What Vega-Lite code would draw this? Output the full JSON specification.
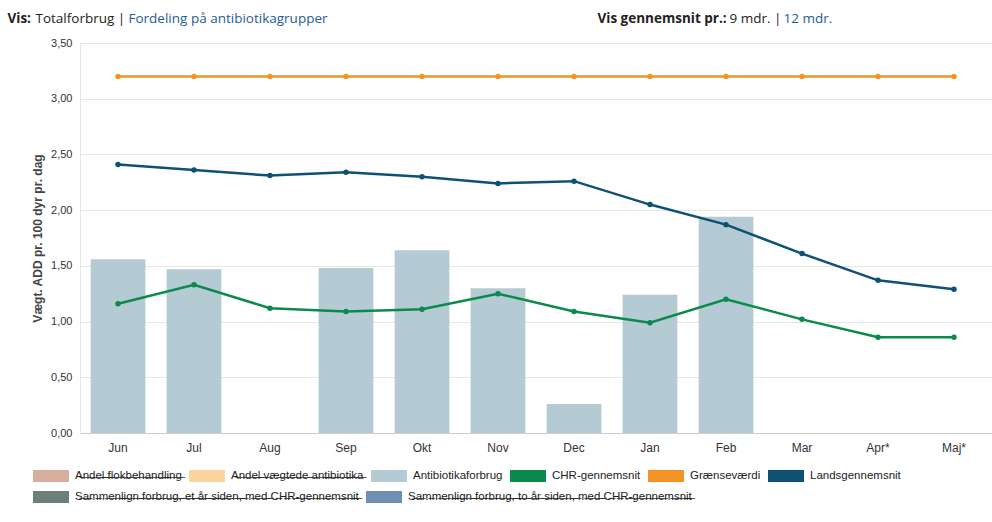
{
  "$schema": "https://vega.github.io/schema/vega-lite/v6.json",
  "width": 912,
  "height": 390,
  "autosize": {"type": "none"},
  "padding": {"left": 80, "top": 43, "right": 0, "bottom": 89},
  "background": "white",
  "config": {
    "view": {"stroke": null},
    "font": "Liberation Sans",
    "legend": {
      "orient": "none", "direction": "horizontal", "title": null,
      "symbolType": "M-1,-1H5V1H-1Z", "symbolSize": 144, "symbolStrokeWidth": 0, "symbolOpacity": 1,
      "labelOffset": 30, "labelFontSize": 11.5, "labelColor": "#222222", "labelLimit": 400,
      "columnPadding": 7
    }
  },
  "data": {
    "values": [
      {"month": "Jun", "serie": "Antibiotikaforbrug", "value": 1.56},
      {"month": "Jul", "serie": "Antibiotikaforbrug", "value": 1.47},
      {"month": "Sep", "serie": "Antibiotikaforbrug", "value": 1.48},
      {"month": "Okt", "serie": "Antibiotikaforbrug", "value": 1.64},
      {"month": "Nov", "serie": "Antibiotikaforbrug", "value": 1.30},
      {"month": "Dec", "serie": "Antibiotikaforbrug", "value": 0.26},
      {"month": "Jan", "serie": "Antibiotikaforbrug", "value": 1.24},
      {"month": "Feb", "serie": "Antibiotikaforbrug", "value": 1.94},
      {"month": "Jun", "serie": "Grænseværdi", "value": 3.2},
      {"month": "Jul", "serie": "Grænseværdi", "value": 3.2},
      {"month": "Aug", "serie": "Grænseværdi", "value": 3.2},
      {"month": "Sep", "serie": "Grænseværdi", "value": 3.2},
      {"month": "Okt", "serie": "Grænseværdi", "value": 3.2},
      {"month": "Nov", "serie": "Grænseværdi", "value": 3.2},
      {"month": "Dec", "serie": "Grænseværdi", "value": 3.2},
      {"month": "Jan", "serie": "Grænseværdi", "value": 3.2},
      {"month": "Feb", "serie": "Grænseværdi", "value": 3.2},
      {"month": "Mar", "serie": "Grænseværdi", "value": 3.2},
      {"month": "Apr*", "serie": "Grænseværdi", "value": 3.2},
      {"month": "Maj*", "serie": "Grænseværdi", "value": 3.2},
      {"month": "Jun", "serie": "Landsgennemsnit", "value": 2.41},
      {"month": "Jul", "serie": "Landsgennemsnit", "value": 2.36},
      {"month": "Aug", "serie": "Landsgennemsnit", "value": 2.31},
      {"month": "Sep", "serie": "Landsgennemsnit", "value": 2.34},
      {"month": "Okt", "serie": "Landsgennemsnit", "value": 2.30},
      {"month": "Nov", "serie": "Landsgennemsnit", "value": 2.24},
      {"month": "Dec", "serie": "Landsgennemsnit", "value": 2.26},
      {"month": "Jan", "serie": "Landsgennemsnit", "value": 2.05},
      {"month": "Feb", "serie": "Landsgennemsnit", "value": 1.87},
      {"month": "Mar", "serie": "Landsgennemsnit", "value": 1.61},
      {"month": "Apr*", "serie": "Landsgennemsnit", "value": 1.37},
      {"month": "Maj*", "serie": "Landsgennemsnit", "value": 1.29},
      {"month": "Jun", "serie": "CHR-gennemsnit", "value": 1.16},
      {"month": "Jul", "serie": "CHR-gennemsnit", "value": 1.33},
      {"month": "Aug", "serie": "CHR-gennemsnit", "value": 1.12},
      {"month": "Sep", "serie": "CHR-gennemsnit", "value": 1.09},
      {"month": "Okt", "serie": "CHR-gennemsnit", "value": 1.11},
      {"month": "Nov", "serie": "CHR-gennemsnit", "value": 1.25},
      {"month": "Dec", "serie": "CHR-gennemsnit", "value": 1.09},
      {"month": "Jan", "serie": "CHR-gennemsnit", "value": 0.99},
      {"month": "Feb", "serie": "CHR-gennemsnit", "value": 1.20},
      {"month": "Mar", "serie": "CHR-gennemsnit", "value": 1.02},
      {"month": "Apr*", "serie": "CHR-gennemsnit", "value": 0.86},
      {"month": "Maj*", "serie": "CHR-gennemsnit", "value": 0.86}
    ]
  },
  "layer": [
    {
      "transform": [{"filter": "datum.serie === 'Antibiotikaforbrug'"}],
      "mark": {"type": "bar"},
      "encoding": {
        "x": {
          "field": "month", "type": "nominal",
          "sort": ["Jun", "Jul", "Aug", "Sep", "Okt", "Nov", "Dec", "Jan", "Feb", "Mar", "Apr*", "Maj*"],
          "scale": {"domain": ["Jun", "Jul", "Aug", "Sep", "Okt", "Nov", "Dec", "Jan", "Feb", "Mar", "Apr*", "Maj*"], "paddingInner": 0.28, "paddingOuter": 0.14},
          "axis": {"orient": "bottom", "title": null, "labelAngle": 0, "ticks": false, "domainColor": "#cccccc", "labelFontSize": 12, "labelColor": "#333333", "labelPadding": 9, "grid": false}
        },
        "y": {
          "field": "value", "type": "quantitative",
          "scale": {"domain": [0, 3.5], "nice": false},
          "axis": {
            "title": "Vægt. ADD pr. 100 dyr pr. dag",
            "values": [0, 0.5, 1, 1.5, 2, 2.5, 3, 3.5],
            "labelExpr": "replace(format(datum.value, '.2f'), '.', ',')",
            "domain": true, "domainColor": "#e6e6e6", "ticks": false,
            "gridColor": "#e6e6e6", "labelFontSize": 11, "labelColor": "#333333",
            "labelPadding": 8, "titleFontSize": 12, "titleFontWeight": "bold",
            "titleColor": "#444444", "titlePadding": 6
          }
        },
        "color": {
          "field": "serie", "type": "nominal",
          "scale": {
            "domain": ["Andel flokbehandling", "Andel vægtede antibiotika", "Antibiotikaforbrug", "CHR-gennemsnit", "Grænseværdi", "Landsgennemsnit"],
            "range": ["#d8ae9c", "#fbd49e", "#b4cbd3", "#0a8a4c", "#f39325", "#0d5275"]
          },
          "legend": {
            "legendX": -47, "legendY": 427,
            "labelExpr": "indexof(['Antibiotikaforbrug','CHR-gennemsnit','Grænseværdi','Landsgennemsnit'], datum.label) >= 0 ? datum.label : replace(datum.label, regexp('(.)', 'g'), '$1\u0336')"
          }
        }
      }
    },
    {
      "transform": [{"filter": "datum.serie === 'Sammenlign'"}],
      "mark": {"type": "bar"},
      "encoding": {
        "x": {
          "field": "month", "type": "nominal",
          "sort": ["Jun", "Jul", "Aug", "Sep", "Okt", "Nov", "Dec", "Jan", "Feb", "Mar", "Apr*", "Maj*"],
          "axis": {"orient": "top", "title": "Vis:", "labels": false, "ticks": false, "domain": false, "grid": false, "titleX": -73, "titleY": -21, "titleAnchor": "start", "titleAlign": "left", "titleBaseline": "alphabetic", "titleFont": "Open Sans", "titleFontSize": 13.5, "titleFontWeight": "bold", "titleColor": "#222222"}
        },
        "y": {"field": "value", "type": "quantitative"},
        "fill": {
          "field": "serie", "type": "nominal",
          "scale": {
            "domain": ["Sammenlign forbrug, et år siden, med CHR-gennemsnit", "Sammenlign forbrug, to år siden, med CHR-gennemsnit"],
            "range": ["#6a8078", "#6f8fb0"]
          },
          "legend": {
            "legendX": -47, "legendY": 448,
            "labelExpr": "replace(datum.label, regexp('(.)', 'g'), '$1\u0336')"
          }
        }
      }
    },
    {
      "transform": [{"filter": "datum.serie === 'ingen'"}],
      "mark": {"type": "bar"},
      "encoding": {
        "x": {
          "field": "month", "type": "nominal",
          "sort": ["Jun", "Jul", "Aug", "Sep", "Okt", "Nov", "Dec", "Jan", "Feb", "Mar", "Apr*", "Maj*"],
          "axis": {"orient": "top", "title": "Fordeling på antibiotikagrupper", "labels": false, "ticks": false, "domain": false, "grid": false, "titleX": 48, "titleY": -21, "titleAnchor": "start", "titleAlign": "left", "titleBaseline": "alphabetic", "titleFont": "Open Sans", "titleFontSize": 13.5, "titleFontWeight": "normal", "titleColor": "#1f5c99"}
        },
        "y": {"field": "value", "type": "quantitative"}
      }
    },
    {
      "transform": [{"filter": "datum.serie === 'intet'"}],
      "mark": {"type": "bar"},
      "encoding": {
        "x": {
          "field": "month", "type": "nominal",
          "sort": ["Jun", "Jul", "Aug", "Sep", "Okt", "Nov", "Dec", "Jan", "Feb", "Mar", "Apr*", "Maj*"],
          "axis": {"orient": "top", "title": "12 mdr.", "labels": false, "ticks": false, "domain": false, "grid": false, "titleX": 703, "titleY": -21, "titleAnchor": "start", "titleAlign": "left", "titleBaseline": "alphabetic", "titleFont": "Open Sans", "titleFontSize": 13.5, "titleFontWeight": "normal", "titleColor": "#1f5c99"}
        },
        "y": {"field": "value", "type": "quantitative"}
      }
    },
    {
      "transform": [{"filter": "datum.serie === 'Grænseværdi'"}],
      "mark": {"type": "line", "color": "#f39325", "strokeWidth": 2.5, "point": {"filled": true, "size": 30, "color": "#f39325"}},
      "encoding": {
        "x": {
          "field": "month", "type": "nominal",
          "sort": ["Jun", "Jul", "Aug", "Sep", "Okt", "Nov", "Dec", "Jan", "Feb", "Mar", "Apr*", "Maj*"],
          "axis": {"orient": "top", "title": "Totalforbrug |", "labels": false, "ticks": false, "domain": false, "grid": false, "titleX": -45, "titleY": -21, "titleAnchor": "start", "titleAlign": "left", "titleBaseline": "alphabetic", "titleFont": "Open Sans", "titleFontSize": 13.5, "titleFontWeight": "normal", "titleColor": "#222222"}
        },
        "y": {"field": "value", "type": "quantitative"}
      }
    },
    {
      "transform": [{"filter": "datum.serie === 'Landsgennemsnit'"}],
      "mark": {"type": "line", "color": "#0d5275", "strokeWidth": 2.5, "point": {"filled": true, "size": 30, "color": "#0d5275"}},
      "encoding": {
        "x": {
          "field": "month", "type": "nominal",
          "sort": ["Jun", "Jul", "Aug", "Sep", "Okt", "Nov", "Dec", "Jan", "Feb", "Mar", "Apr*", "Maj*"],
          "axis": {"orient": "top", "title": "Vis gennemsnit pr.:", "labels": false, "ticks": false, "domain": false, "grid": false, "titleX": 517, "titleY": -21, "titleAnchor": "start", "titleAlign": "left", "titleBaseline": "alphabetic", "titleFont": "Open Sans", "titleFontSize": 13.5, "titleFontWeight": "bold", "titleColor": "#222222"}
        },
        "y": {"field": "value", "type": "quantitative"}
      }
    },
    {
      "transform": [{"filter": "datum.serie === 'CHR-gennemsnit'"}],
      "mark": {"type": "line", "color": "#0a8a4c", "strokeWidth": 2.5, "point": {"filled": true, "size": 30, "color": "#0a8a4c"}},
      "encoding": {
        "x": {
          "field": "month", "type": "nominal",
          "sort": ["Jun", "Jul", "Aug", "Sep", "Okt", "Nov", "Dec", "Jan", "Feb", "Mar", "Apr*", "Maj*"],
          "axis": {"orient": "top", "title": "9 mdr. |", "labels": false, "ticks": false, "domain": false, "grid": false, "titleX": 649, "titleY": -21, "titleAnchor": "start", "titleAlign": "left", "titleBaseline": "alphabetic", "titleFont": "Open Sans", "titleFontSize": 13.5, "titleFontWeight": "normal", "titleColor": "#222222"}
        },
        "y": {"field": "value", "type": "quantitative"}
      }
    }
  ],
  "resolve": {"axis": {"x": "independent"}}
}
